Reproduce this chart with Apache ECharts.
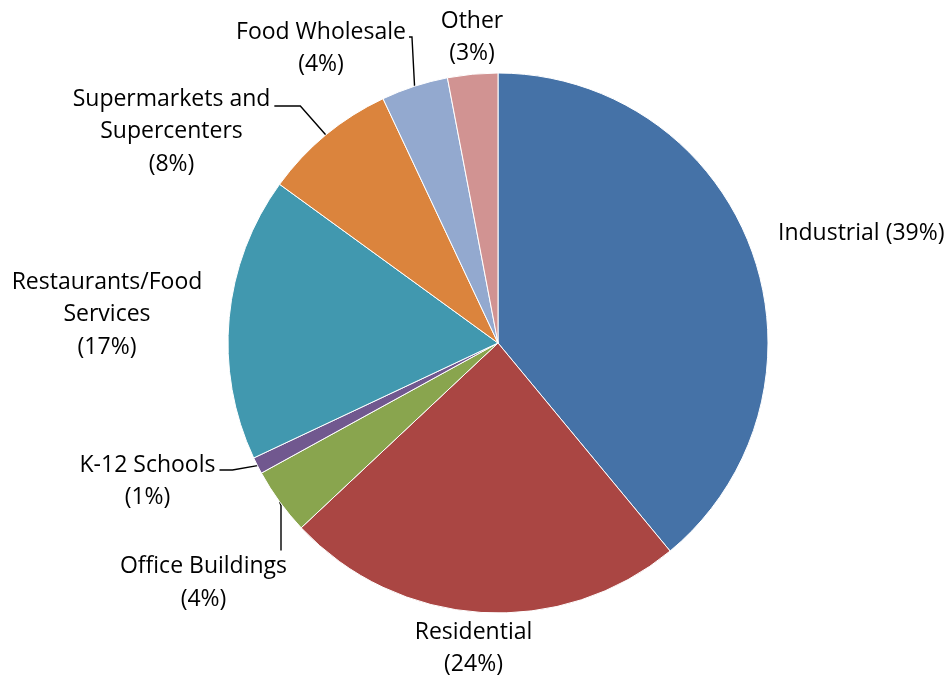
<!DOCTYPE html>
<html>
<head>
<meta charset="utf-8">
<script src="https://cdn.jsdelivr.net/npm/echarts@6/dist/echarts.min.js"></script>
<style>html,body{margin:0;padding:0;background:#fff}#c{width:947px;height:677px}</style>
</head>
<body>
<div id="c"></div>
<script>
var categories = ["Industrial", "Residential", "Office Buildings", "K-12 Schools", "Restaurants/Food Services", "Supermarkets and Supercenters", "Food Wholesale", "Other"];
var values = [39, 24, 4, 1, 17, 8, 4, 3];
var labelNames = ["Industrial", "Residential\n", "Office Buildings\n", "K-12 Schools\n", "Restaurants/Food\nServices\n", "Supermarkets and\nSupercenters\n", "Food Wholesale\n", "Other\n"];
var colors = ["#4572A7", "#AA4643", "#89A54E", "#71588F", "#4198AF", "#DB843D", "#93A9CF", "#D19392"];

// label placement / leader line styling (not data)
var labelPos = [
  {x: 778, y: 233, align: 'left'},
  {x: 473.5, y: 648.5, align: 'center'},
  {x: 281, y: 583, align: 'center'},
  {x: 147.5, y: 470, align: 'center'},
  {x: 107, y: 314.5, align: 'center'},
  {x: 171.5, y: 106, align: 'center'},
  {x: 321, y: 37, align: 'center'},
  {x: 472, y: 37.5, align: 'center'}
];
// blank spacer lines above a label so its leader line meets the first text line
var spacer = ['', '', '', '{g2| }\n', '', '{g1| }\n{g1| }\n', '{g2| }\n', ''];
var labelPad = [0, 0, [0, 155, 0, 0], [0, 4, 0, 4], 0, [0, 4, 0, 4], [0, 3, 0, 3], 0];
var lineShow = [false, false, true, true, false, true, true, false];
var lineLen2 = [0, 0, 45, 13, 0, 26, 3, 0];

var chart = echarts.init(document.getElementById('c'), null, {renderer: 'canvas'});
chart.setOption({
  animation: false,
  series: [{
    type: 'pie',
    center: [498, 343],
    radius: 270,
    startAngle: 90,
    clockwise: true,
    avoidLabelOverlap: false,
    itemStyle: {borderColor: '#ffffff', borderWidth: 1},
    label: {
      show: true,
      position: 'outside',
      color: '#000',
      fontFamily: 'Open Sans',
      fontSize: 23,
      lineHeight: 32.5,
      backgroundColor: 'rgba(255,255,255,0)',
      rich: {
        g1: {lineHeight: 25.5, fontSize: 10},
        g2: {lineHeight: 22.5, fontSize: 10}
      },
      formatter: function (p) {
        var i = p.dataIndex;
        var n = labelNames[i];
        return spacer[i] + n + (n.charAt(n.length - 1) === '\n' ? '' : ' ') + '(' + Math.round(p.percent) + '%)';
      }
    },
    labelLine: {show: true, length: 10, length2: 20, minTurnAngle: 0, lineStyle: {color: '#000', width: 1.4}},
    labelLayout: function (params) {
      var p = labelPos[params.dataIndex];
      return {x: p.x, y: p.y, align: p.align, verticalAlign: 'middle'};
    },
    data: categories.map(function (c, i) {
      return {
        name: c,
        value: values[i],
        itemStyle: {color: colors[i]},
        label: {padding: labelPad[i]},
        labelLine: {show: lineShow[i], length2: lineLen2[i]}
      };
    })
  }]
});
</script>
</body>
</html>
